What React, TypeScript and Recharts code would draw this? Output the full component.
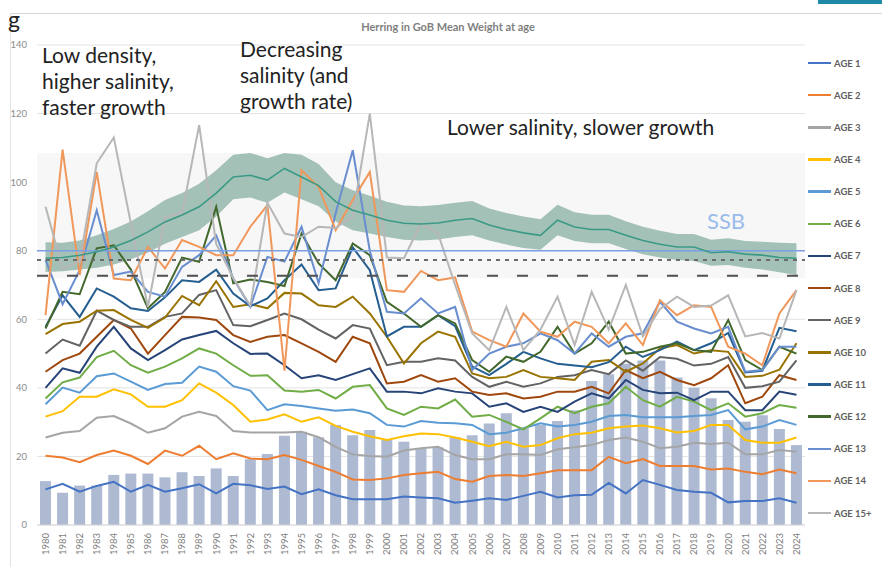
import React from "react"
import { ComposedChart, Line, Bar, Area, XAxis, YAxis, CartesianGrid, ReferenceLine, ReferenceArea } from "recharts"

const years = ['1980', '1981', '1982', '1983', '1984', '1985', '1986', '1987', '1988', '1989', '1990', '1991', '1992', '1993', '1994', '1995', '1996', '1997', '1998', '1999', '2000', '2001', '2002', '2003', '2004', '2005', '2006', '2007', '2008', '2009', '2010', '2011', '2012', '2013', '2014', '2015', '2016', '2017', '2018', '2019', '2020', '2021', '2022', '2023', '2024']

// grey bars in the background
const bars = [12.8, 9.4, 11.5, 11.5, 14.6, 15, 15, 13.9, 15.4, 14.3, 16.5, 14.3, 19.2, 20.7, 26, 27.2, 25.6, 29.2, 26.2, 27.7, 24.8, 24.3, 22.4, 22.6, 25.6, 26.2, 29.6, 32.6, 28.2, 29.2, 30.3, 33.5, 42, 44, 47, 48, 48, 43, 40, 37, 30.6, 30.1, 32, 28, 23.3]

const age1 = [10.4, 12, 9.7, 11.4, 12.6, 9.7, 11.7, 9.7, 10.7, 11.9, 9.2, 12, 11.6, 10.5, 11.2, 9, 10.4, 8.7, 7.5, 7.5, 7.5, 8.3, 8, 7.8, 6.5, 7.1, 7.8, 7.3, 8.5, 9.7, 8, 8.7, 8.8, 12.3, 9.2, 13.1, 11.7, 10.2, 9.7, 9.4, 6.6, 7, 7, 7.8, 6.5]
const age2 = [20.2, 19.7, 18.3, 20.4, 21.7, 20.2, 17.8, 21.7, 20.2, 23.1, 19.2, 20.9, 19.4, 19.2, 20.4, 19, 17.2, 15.5, 13.3, 13.1, 13.6, 14.6, 15.1, 15.5, 13.4, 12.6, 14.3, 14.6, 14.3, 15.1, 16, 16, 16, 19.9, 18, 19.2, 17.2, 17.2, 17.2, 16.2, 16.5, 15.5, 14.8, 16.2, 15.1]
const age3 = [25.5, 26.9, 27.4, 31.3, 31.8, 29.6, 26.9, 28.2, 31.6, 33, 31.8, 27.4, 27, 27, 27, 27.2, 25.6, 22.8, 20.6, 20.1, 19.9, 21.7, 22.4, 22.8, 20.4, 19.2, 19.2, 20.6, 20.6, 20.4, 22.1, 22.7, 23.3, 24.8, 25.5, 24.3, 22.4, 22.8, 24, 23.6, 24, 20.6, 20.6, 21.9, 21.4]
const age4 = [31.6, 33.2, 37.4, 37.4, 39.6, 38.1, 34.5, 34.5, 36.4, 41.3, 38.6, 35, 30.1, 30.8, 32.3, 30.1, 31.4, 28.9, 27.2, 25.9, 24.8, 25.9, 26.7, 26.5, 25.5, 24.3, 23, 24.3, 22.8, 23.3, 25.3, 26.5, 26.9, 28.2, 28.7, 29, 28.2, 27, 27.4, 29.2, 29.2, 24.8, 24, 24, 25.5]
const age5 = [35.2, 40.1, 38.6, 43.4, 44.2, 41.8, 39.4, 41.1, 41.5, 46.2, 44.7, 40.5, 39.2, 33.5, 35.2, 34.7, 34, 33.3, 33.7, 32.6, 29.2, 28.7, 30.3, 29.8, 29.7, 29.2, 26.5, 26.9, 28.2, 29.7, 28.7, 29.2, 30.1, 31.8, 32.1, 31.4, 31.4, 31.4, 31.8, 32.1, 33.5, 27.9, 28.7, 30.6, 29.2]
const age6 = [36.9, 41.6, 43, 49, 50.8, 46.6, 44.4, 46.2, 48.6, 51.5, 50, 46.6, 43.5, 43.7, 39.2, 38.9, 39.4, 36.9, 40.3, 40.8, 34, 32.1, 34.5, 34, 36.6, 31.6, 32.1, 30.1, 27.9, 31.1, 34.5, 32.6, 34.5, 35.5, 40.3, 36.4, 34.5, 37.4, 36, 33.5, 35.5, 31.6, 32.6, 35, 34.2]
const age7 = [40, 45.7, 44.4, 52, 57.8, 51.5, 48.1, 51, 54.1, 55.4, 56.6, 53, 49.9, 50, 46.6, 42.8, 43.7, 42.3, 44, 45.7, 38.9, 38.9, 38.4, 39.9, 38.9, 38.4, 34.5, 35.5, 33, 34.5, 33, 36, 38.4, 36.9, 42.3, 39.4, 38.4, 38.6, 36.4, 38.9, 38.9, 33.5, 33.5, 38.9, 38]
const age8 = [44.7, 48.1, 50, 54.9, 59.8, 57.3, 50, 55.4, 60.7, 60.5, 59.8, 55.4, 53.4, 54.9, 55.4, 53, 50.5, 47.6, 54.9, 53, 41.3, 41.8, 43.7, 41.8, 42.8, 38.9, 37.9, 38.4, 36.9, 37.4, 38.9, 38.9, 40.3, 38.4, 45.2, 42.8, 44.7, 42.3, 40.8, 42.8, 46.6, 35.5, 37.4, 43.7, 42.3]
const age9 = [50, 54.1, 52.3, 62.5, 59.8, 57.8, 57.8, 60.7, 61.7, 67.1, 68.5, 58.3, 58, 59.8, 61.7, 60, 57, 54.4, 58.3, 57.3, 46.6, 47.6, 47.6, 48.6, 48, 43.2, 40.3, 41.8, 40.3, 41.3, 43.2, 43.7, 45.2, 44, 48, 45, 49, 48.5, 46.5, 47, 49, 40, 40.5, 41.8, 48]
const age10 = [55.7, 58.6, 59.3, 62.5, 62.7, 59.8, 57.5, 60.5, 66.8, 64.1, 71.1, 63.6, 64.4, 63.2, 67.7, 67.5, 64.1, 63.6, 66.6, 61.7, 54.9, 47.1, 53, 56.4, 54.9, 44.2, 42.8, 43.2, 45.2, 43.2, 42.8, 42.3, 47.6, 48.1, 44.7, 47.1, 51.5, 52.5, 50, 51, 50.5, 43.2, 43.5, 45.3, 53]
const age11 = [57.8, 67, 60.7, 69, 66.6, 63.2, 62.4, 66.4, 71.4, 70.9, 74.5, 67.5, 63.8, 66.1, 71.4, 76, 68.5, 69, 81, 74.3, 55, 57.8, 57.8, 61.2, 58, 46.2, 43.7, 47, 50.5, 48.6, 47, 46.5, 46, 47.5, 52, 49, 51, 53.5, 51, 53, 56, 44.5, 45, 57.5, 56.5]
const age12 = [57.3, 68, 67.3, 80.7, 81.6, 74.5, 63.2, 68, 78, 76.8, 92.8, 70.5, 71.6, 70.9, 69.7, 85, 76.3, 71.4, 82.1, 78.7, 65.1, 61.7, 57.8, 61.2, 58.8, 48.1, 44.7, 49.1, 47.6, 50.5, 57.8, 50, 53, 59.3, 50, 50.5, 52, 53, 51, 50.5, 59.8, 48.1, 45.2, 52, 50]
const age13 = [77.3, 64.4, 74.3, 91.8, 72.9, 73.9, 68, 66.6, 75.3, 78.7, 84.5, 71.9, 63.6, 78.2, 76.8, 87, 70.5, 90.9, 109.3, 80, 62.2, 61.7, 66.1, 61.7, 63.6, 45.2, 50, 52, 53, 55.9, 53.9, 50, 55.9, 52, 54.9, 55.9, 65.1, 59.3, 57.3, 55.9, 57.8, 44.7, 45.2, 52, 52]
const age14 = [61.2, 109.5, 72.9, 103, 71.9, 71.4, 81.1, 74.8, 83.1, 81.1, 78.7, 78.7, 87, 93.3, 45, 103.5, 98.6, 86, 94.8, 103, 68.5, 68, 74.1, 71.4, 72.2, 56.4, 53.9, 52, 61.7, 56.4, 54.9, 59.3, 57.8, 53, 58.8, 52.5, 65.6, 61.2, 64.1, 63.6, 52, 50, 46.6, 61.7, 68.5]
const age15 = [92.8, 74.8, 77, 105.5, 113, 88, 63.6, 89.9, 90.9, 116.6, 82, 72, 64, 94, 85, 84, 87, 86.6, 90, 120, 78, 77.8, 88, 85, 70, 55.9, 51, 63.6, 51, 57, 66.6, 52.5, 68, 57, 70, 55, 63, 66.6, 63.6, 64, 67, 55, 56, 54.4, 68.5]

// SSB overlay (centre line and uncertainty band), drawn in the same units
const ssbMid = [77.8, 78, 78.7, 79.7, 81.1, 83, 85.5, 88.4, 90.4, 92.8, 96.8, 101.5, 102, 100.6, 104, 101.5, 99, 94.3, 91.8, 90.4, 88.9, 88, 87.8, 88.1, 88.9, 89.4, 87.5, 86.2, 85.2, 84.5, 88.9, 86.9, 86.2, 86.2, 84.5, 83, 81.9, 81.1, 81.1, 79.4, 79.7, 79, 78.7, 78, 77.8]
const ssbLow = [73.8, 74, 74.5, 75, 76, 77.5, 79.5, 82, 84, 86, 90, 95, 95.5, 94, 97, 95, 93, 88.5, 86, 85, 84, 83.2, 83, 83.3, 84, 84.5, 83, 81.8, 80.8, 80.3, 84.5, 82.8, 82.2, 82.2, 80.5, 79, 78, 77.3, 77, 75.6, 75.8, 75, 74.5, 73.7, 72.9]
const ssbHigh = [82.5, 82.3, 83, 84.5, 86.3, 88.5, 91.5, 94.8, 96.8, 99.5, 103.5, 108, 108.5, 107, 108.5, 108, 105.3, 100, 97.6, 96, 94.3, 93.2, 93, 93.3, 94, 94.5, 92.3, 91, 90, 89.2, 93.4, 91.2, 90.5, 90.5, 88.6, 87, 85.8, 84.9, 84.9, 83.2, 83.6, 82.8, 82.6, 82.3, 82.2]

const series = [
    { key: 'a1', name: 'AGE 1', color: '#4472C4', values: age1 },
    { key: 'a2', name: 'AGE 2', color: '#ED7D31', values: age2 },
    { key: 'a3', name: 'AGE 3', color: '#A5A5A5', values: age3 },
    { key: 'a4', name: 'AGE 4', color: '#FFC000', values: age4 },
    { key: 'a5', name: 'AGE 5', color: '#5B9BD5', values: age5 },
    { key: 'a6', name: 'AGE 6', color: '#70AD47', values: age6 },
    { key: 'a7', name: 'AGE 7', color: '#264478', values: age7 },
    { key: 'a8', name: 'AGE 8', color: '#9E480E', values: age8 },
    { key: 'a9', name: 'AGE 9', color: '#636363', values: age9 },
    { key: 'a10', name: 'AGE 10', color: '#997300', values: age10 },
    { key: 'a11', name: 'AGE 11', color: '#255E91', values: age11 },
    { key: 'a12', name: 'AGE 12', color: '#43682B', values: age12 },
    { key: 'a13', name: 'AGE 13', color: '#698ED0', values: age13 },
    { key: 'a14', name: 'AGE 14', color: '#F1975A', values: age14 },
    { key: 'a15', name: 'AGE 15+', color: '#B7B7B7', values: age15 },
]

const rows = years.map((year, i) => {
    const row: Record<string, any> = { year, bars: bars[i], ssb: ssbMid[i], ssbRange: [ssbLow[i], ssbHigh[i]] }
    series.forEach(s => { row[s.key] = s.values[i] })
    return row
})

const FONT = 'Lato, "Open Sans", sans-serif'

const YearTick = ({ x, y, payload }: any) => (
    <text transform={`translate(${x},${y}) rotate(-90)`} textAnchor="end" dy="0.35em" fontSize={9.5} fill="#7f7f7f" fontFamily={FONT}>
        {payload.value}
    </text>
)

const note = (left: number, top: number, text: string[], extra: React.CSSProperties = {}) => (
    <div style={{ position: 'absolute', zIndex: 2, left, top, fontFamily: FONT, fontSize: 21, lineHeight: '26px', color: '#222', whiteSpace: 'nowrap', pointerEvents: 'none', ...extra }}>
        {text.map((t, i) => <div key={i}>{t}</div>)}
    </div>
)

export default function App() {
    return (
        <div style={{ position: 'absolute', left: 0, top: 0, width: 882, height: 567, background: '#fff', overflow: 'hidden' }}>
            {/* slide frame */}
            <div style={{ position: 'absolute', left: 10, top: 13, width: 872, height: 554, borderTop: '1px solid #d6d6d6', borderLeft: '1px solid #e4e4e4' }} />
            <div style={{ position: 'absolute', left: 818, top: 0, width: 64, height: 4, background: '#1f8aa6' }} />

            <ComposedChart width={882} height={567} data={rows} margin={{ top: 45, right: 77, bottom: 0, left: 0 }} style={{ position: 'absolute', left: 0, top: 0 }}>
                <CartesianGrid vertical={false} stroke="#e2e2e2" />
                <ReferenceArea x1="1980" x2="2024" y1={72} y2={108.5} fill="#f7f7f7" fillOpacity={1} stroke="none" />
                <XAxis dataKey="year" interval={0} tick={<YearTick />} tickLine={false} axisLine={{ stroke: '#d9d9d9' }} height={42} />
                <YAxis domain={[0, 140]} ticks={[0, 20, 40, 60, 80, 100, 120, 140]} width={37} tickLine={false} axisLine={false} tickMargin={4}
                    tick={{ fontSize: 9.5, fill: '#8c8c8c', fontFamily: FONT }} />
                <Bar dataKey="bars" fill="#adbad2" barSize={11} isAnimationActive={false} />
                {series.map(s => (
                    <Line key={s.key} dataKey={s.key} stroke={s.color} strokeWidth={2} dot={false} isAnimationActive={false} />
                ))}
                <ReferenceLine y={80} stroke="#7b9fe2" strokeWidth={1.5} />
                <ReferenceLine y={77.3} stroke="#6b6b6b" strokeWidth={2} strokeDasharray="4 5" />
                <ReferenceLine y={72.7} stroke="#505050" strokeWidth={2} strokeDasharray="11 19" />
                <Area dataKey="ssbRange" fill="#4f8c78" fillOpacity={0.5} stroke="none" isAnimationActive={false} />
                <Line dataKey="ssb" stroke="#3a9a85" strokeWidth={1.6} dot={false} isAnimationActive={false} />
            </ComposedChart>

            <div style={{ position: 'absolute', zIndex: 2, left: 0, top: 20, width: 896, textAlign: 'center', fontFamily: FONT, fontWeight: 700, fontSize: 11, color: '#7f7f7f' }}>
                Herring in GoB Mean Weight at age
            </div>

            {note(8, 6, ['g'], { fontSize: 23 })}
            {note(42, 42, ['Low density,', 'higher salinity,', 'faster growth'])}
            {note(240, 36, ['Decreasing', 'salinity (and', 'growth rate)'])}
            {note(447, 114, ['Lower salinity, slower growth'])}
            {note(707, 208, ['SSB'], { color: '#9bbbea', fontSize: 22 })}

            <div style={{ position: 'absolute', zIndex: 2, left: 808, top: 47 }}>
                {series.map(s => (
                    <div key={s.key} style={{ height: 32.15, display: 'flex', alignItems: 'center' }}>
                        <span style={{ width: 23, height: 2.5, background: s.color, display: 'inline-block' }} />
                        <span style={{ marginLeft: 3, fontFamily: FONT, fontSize: 9.5, fontWeight: 700, color: '#5f5f5f' }}>{s.name}</span>
                    </div>
                ))}
            </div>
        </div>
    )
}
